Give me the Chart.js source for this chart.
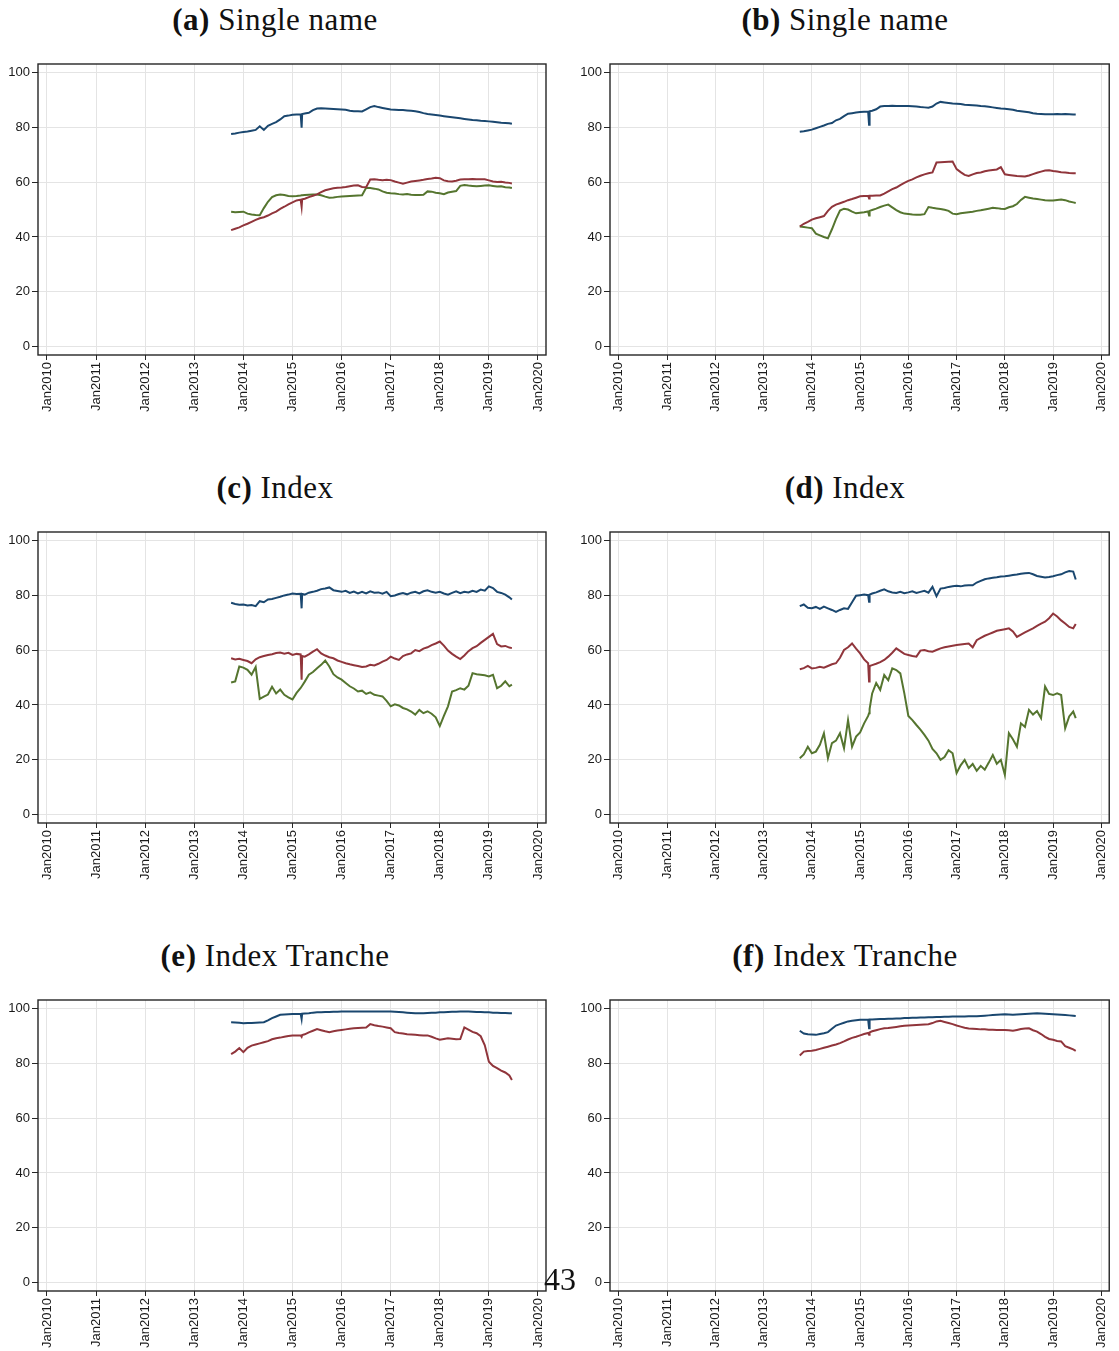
<!DOCTYPE html>
<html>
<head>
<meta charset="utf-8">
<script src="https://cdn.jsdelivr.net/npm/chart.js@4.4.1/dist/chart.umd.min.js"></script>
<style>
  html, body { margin: 0; padding: 0; background: #fff; overflow: hidden; }
  body { width: 1119px; height: 1351px; position: relative; }
  canvas { position: absolute; }
  .title {
    position: absolute; text-align: center; white-space: nowrap;
    font-family: 'Liberation Serif', 'Times New Roman', serif;
    font-size: 31px; line-height: 31px; letter-spacing: 0.5px; color: #111;
  }
  .pagenum {
    position: absolute; left: 544px; top: 1263px;
    font-family: 'Liberation Serif', 'Times New Roman', serif;
    font-size: 32px; line-height: 32px; color: #111;
  }
</style>
</head>
<body>
<div class="pagenum">43</div>
<script>
// ── Data ───────────────────────────────────────────────────────────────────

// sample dates (monthly, plus the Mar 2015 roll and the last observation)
const dates = [
  '2013-10-01', '2013-11-01', '2013-12-01',
  '2014-01-01', '2014-02-01', '2014-03-01', '2014-04-01', '2014-05-01', '2014-06-01',
  '2014-07-01', '2014-08-01', '2014-09-01', '2014-10-01', '2014-11-01', '2014-12-01',
  '2015-01-01', '2015-02-01', '2015-03-01', '2015-03-08', '2015-03-12', '2015-04-01',
  '2015-05-01', '2015-06-01', '2015-07-01', '2015-08-01', '2015-09-01', '2015-10-01',
  '2015-11-01', '2015-12-01',
  '2016-01-01', '2016-02-01', '2016-03-01', '2016-04-01', '2016-05-01', '2016-06-01',
  '2016-07-01', '2016-08-01', '2016-09-01', '2016-10-01', '2016-11-01', '2016-12-01',
  '2017-01-01', '2017-02-01', '2017-03-01', '2017-04-01', '2017-05-01', '2017-06-01',
  '2017-07-01', '2017-08-01', '2017-09-01', '2017-10-01', '2017-11-01', '2017-12-01',
  '2018-01-01', '2018-02-01', '2018-03-01', '2018-04-01', '2018-05-01', '2018-06-01',
  '2018-07-01', '2018-08-01', '2018-09-01', '2018-10-01', '2018-11-01', '2018-12-01',
  '2019-01-01', '2019-02-01', '2019-03-01', '2019-04-01', '2019-05-01', '2019-06-01',
  '2019-06-20',
];

const yearTicks  = [2010, 2011, 2012, 2013, 2014, 2015, 2016, 2017, 2018, 2019, 2020];
const valueTicks = [0, 20, 40, 60, 80, 100];

// (a) Single name
const aBlue = [
  77.5, 77.7, 78.0,
  78.2, 78.4, 78.7, 79.0, 80.3, 79.0, 80.5, 81.2, 81.8, 82.8, 84.0, 84.2,
  84.5, 84.6, 84.7, 79.8, 84.8, 85.0, 85.2, 86.2, 86.8, 86.9, 86.8, 86.7, 86.6, 86.5,
  86.4, 86.3, 86.0, 85.8, 85.8, 85.7, 86.5, 87.3, 87.7, 87.3, 87.0, 86.7,
  86.4, 86.3, 86.2, 86.2, 86.1, 86.0, 85.8, 85.5, 85.1, 84.8, 84.6, 84.4,
  84.2, 84.0, 83.8, 83.6, 83.4, 83.2, 83.0, 82.8, 82.6, 82.5, 82.3, 82.2,
  82.1, 82.0, 81.8, 81.6, 81.5, 81.4, 81.2,
];
const aRed = [
  42.5, 43.0, 43.5,
  44.2, 44.8, 45.5, 46.2, 46.8, 47.2, 47.8, 48.6, 49.2, 50.2, 51.0, 51.9,
  52.6, 53.3, 53.6, 51.0, 53.7, 53.9, 54.5, 55.0, 55.5, 56.3, 57.0, 57.4, 57.7, 57.9,
  58.0, 58.2, 58.5, 58.7, 58.8, 58.2, 58.1, 60.9, 61.0, 60.8, 60.7, 60.8,
  60.7, 60.2, 59.8, 59.4, 59.8, 60.2, 60.4, 60.6, 60.8, 61.1, 61.3, 61.6,
  61.4, 60.6, 60.3, 60.2, 60.5, 60.9, 61.0, 61.0, 61.1, 61.0, 61.0, 61.0,
  60.6, 60.2, 60.0, 60.1, 59.8, 59.7, 59.5,
];
const aGreen = [
  49.2, 49.0, 49.1,
  49.2, 48.5, 48.2, 48.0, 47.9, 50.5, 52.8, 54.5, 55.2, 55.5, 55.3, 54.9,
  54.8, 54.9, 55.1, 55.2, 55.2, 55.3, 55.4, 55.5, 55.5, 55.2, 54.7, 54.3, 54.4, 54.6,
  54.7, 54.8, 54.9, 55.0, 55.1, 55.2, 57.9, 57.8, 57.6, 57.3, 56.6, 56.1,
  55.9, 55.8, 55.6, 55.5, 55.6, 55.4, 55.3, 55.3, 55.4, 56.6, 56.5, 56.1,
  55.9, 55.6, 56.2, 56.5, 56.7, 58.6, 58.9, 58.7, 58.6, 58.5, 58.6, 58.7,
  58.8, 58.6, 58.4, 58.5, 58.1, 58.0, 57.8,
];

// (b) Single name
const bBlue = [
  78.3, 78.5, 78.8,
  79.1, 79.6, 80.1, 80.6, 81.2, 81.5, 82.5, 83.0, 84.0, 84.9, 85.1, 85.3,
  85.5, 85.6, 85.7, 80.9, 85.8, 86.0, 86.5, 87.5, 87.7, 87.7, 87.8, 87.7, 87.7, 87.7,
  87.7, 87.6, 87.5, 87.3, 87.2, 87.1, 87.5, 88.6, 89.2, 89.0, 88.8, 88.6,
  88.5, 88.4, 88.2, 88.1, 88.0, 87.9, 87.7, 87.6, 87.4, 87.2, 87.0, 86.8,
  86.7, 86.5, 86.3, 86.0, 85.8, 85.6, 85.4, 85.1, 84.9, 84.8, 84.7, 84.7,
  84.7, 84.8, 84.7, 84.8, 84.7, 84.6, 84.6,
];
const bRed = [
  43.8, 44.8, 45.5,
  46.3, 46.8, 47.2, 47.6, 49.5, 51.0, 51.8, 52.3, 52.8, 53.4, 53.8, 54.3,
  54.8, 54.9, 55.0, 54.0, 55.0, 55.0, 55.1, 55.1, 55.8, 56.6, 57.4, 58.0, 58.9, 59.7,
  60.4, 61.0, 61.7, 62.3, 62.8, 63.2, 63.5, 67.1, 67.2, 67.3, 67.4, 67.5,
  64.7, 63.6, 62.6, 62.2, 62.8, 63.3, 63.5, 63.9, 64.2, 64.4, 64.6, 65.4,
  62.8, 62.6, 62.4, 62.2, 62.1, 62.0, 62.4, 62.9, 63.4, 63.8, 64.2, 64.3,
  64.0, 63.8, 63.6, 63.5, 63.3, 63.2, 63.2,
];
const bGreen = [
  43.8, 43.6, 43.4,
  43.2, 41.2, 40.6, 40.0, 39.5, 42.8, 46.5, 49.6, 50.3, 50.0, 49.2, 48.6,
  48.8, 49.0, 49.3, 47.8, 49.5, 49.8, 50.3, 50.9, 51.4, 51.8, 50.8, 49.8, 49.0, 48.5,
  48.4, 48.2, 48.1, 48.1, 48.3, 50.9, 50.6, 50.4, 50.2, 49.9, 49.5, 48.5,
  48.3, 48.6, 48.8, 49.0, 49.2, 49.5, 49.7, 50.0, 50.3, 50.6, 50.5, 50.3,
  50.2, 50.8, 51.2, 52.0, 53.5, 54.6, 54.3, 54.0, 53.8, 53.6, 53.4, 53.3,
  53.3, 53.5, 53.6, 53.4, 52.9, 52.6, 52.4,
];

// (c) Index
const cBlue = [
  77.2, 76.8, 76.5,
  76.6, 76.2, 76.4, 76.0, 77.8, 77.4, 78.4, 78.6, 79.0, 79.4, 79.9, 80.2,
  80.6, 80.4, 80.5, 75.2, 80.4, 80.2, 80.9, 81.2, 81.6, 82.2, 82.4, 82.8, 81.8, 81.5,
  81.2, 81.6, 80.8, 81.3, 80.6, 81.2, 80.6, 81.4, 80.9, 81.0, 80.5, 81.2,
  79.6, 79.9, 80.4, 80.8, 80.3, 80.9, 81.2, 80.6, 81.4, 81.8, 81.2, 80.9,
  81.2, 80.6, 80.2, 80.8, 81.4, 80.7, 81.2, 81.0, 81.6, 81.2, 82.0, 81.6,
  83.2, 82.6, 81.2, 80.8, 80.2, 79.2, 78.4,
];
const cRed = [
  57.0, 56.6, 56.8,
  56.4, 56.0, 55.2, 56.6, 57.4, 57.8, 58.2, 58.5, 58.9, 59.1, 58.7, 59.0,
  58.2, 58.6, 58.4, 49.2, 57.8, 57.6, 58.4, 59.4, 60.3, 58.8, 58.0, 57.4, 57.0, 56.2,
  55.7, 55.2, 54.8, 54.5, 54.2, 53.8, 54.0, 54.6, 54.4, 55.0, 55.8, 56.4,
  57.6, 56.9, 56.4, 57.8, 58.4, 58.8, 60.0, 59.6, 60.5, 61.0, 61.8, 62.4,
  63.1, 61.6, 59.8, 58.6, 57.6, 56.7, 58.0, 59.6, 60.7, 61.4, 62.6, 63.7,
  64.8, 65.9, 62.2, 61.3, 61.5, 60.9, 60.7,
];
const cGreen = [
  48.2, 48.6, 54.0,
  53.6, 52.8, 51.0, 53.8, 42.2, 43.0, 43.8, 46.6, 44.2, 45.6, 43.7, 42.8,
  42.0, 44.4, 46.2, 46.7, 47.0, 48.5, 51.0, 52.0, 53.4, 54.6, 56.2, 54.0, 51.2, 50.0,
  49.2, 48.0, 46.8, 46.0, 44.9, 45.2, 44.0, 44.6, 43.7, 43.4, 43.1, 41.5,
  39.5, 40.2, 39.8, 38.9, 38.4, 37.6, 36.5, 38.2, 37.0, 37.7, 36.8, 35.5,
  32.3, 36.0, 39.5, 44.9, 45.4, 46.1, 45.6, 47.0, 51.6, 51.2, 51.0, 50.8,
  50.4, 51.0, 46.1, 47.0, 48.6, 46.8, 47.4,
];

// (d) Index
const dBlue = [
  76.0, 76.6, 75.4,
  75.2, 75.7, 75.0, 75.8, 75.2, 74.6, 73.9, 74.6, 75.2, 75.0, 77.4, 79.8,
  80.0, 80.2, 80.0, 77.6, 80.2, 80.6, 81.0, 81.6, 82.1, 81.4, 81.0, 80.8, 81.2, 80.7,
  81.0, 81.4, 80.8, 81.2, 81.6, 80.9, 83.0, 79.6, 82.4, 82.6, 83.0, 83.2,
  83.4, 83.2, 83.5, 83.6, 83.6, 84.6, 85.2, 85.8, 86.1, 86.3, 86.5, 86.8,
  86.9, 87.1, 87.3, 87.5, 87.8, 88.0, 88.1, 87.6, 87.0, 86.7, 86.4, 86.6,
  86.9, 87.3, 87.6, 88.3, 88.8, 88.6, 85.7,
];
const dRed = [
  53.0, 53.4, 54.2,
  53.3, 53.5, 53.9, 53.6, 54.2, 54.8, 55.2, 57.2, 60.0, 61.0, 62.4, 60.5,
  58.8, 56.6, 55.2, 48.5, 54.2, 54.5, 55.0, 55.6, 56.4, 57.6, 59.0, 60.6, 59.6, 58.6,
  58.2, 57.8, 57.6, 59.8, 60.0, 59.6, 59.4, 60.0, 60.6, 61.0, 61.3, 61.6,
  61.8, 62.0, 62.2, 62.4, 61.0, 63.6, 64.4, 65.2, 65.8, 66.4, 67.0, 67.3,
  67.6, 67.9, 66.8, 64.8, 65.6, 66.4, 67.2, 67.9, 68.8, 69.6, 70.3, 71.6,
  73.3, 72.2, 70.8, 69.7, 68.4, 67.9, 69.5,
];
const dGreen = [
  20.6, 22.0, 24.8,
  22.4, 23.0, 25.5, 29.7, 20.6, 26.1, 27.0, 29.7, 24.2, 34.5, 24.8, 28.5,
  30.0, 33.3, 36.0, 37.0, 38.5, 44.2, 48.0, 45.5, 50.9, 49.0, 53.3, 52.7, 51.5, 44.2,
  36.0, 34.5, 32.7, 31.0, 29.1, 27.0, 24.0, 22.4, 20.0, 21.0, 23.5, 22.4,
  15.2, 18.0, 20.0, 17.0, 18.5, 16.0, 17.8, 16.4, 19.0, 21.8, 18.6, 20.0,
  14.5, 29.7, 27.5, 24.8, 33.3, 32.0, 38.2, 36.5, 37.8, 35.2, 46.7, 44.0,
  43.6, 44.2, 43.6, 31.5, 35.8, 37.6, 35.2,
];

// (e) Index Tranche
const eBlue = [
  94.9, 94.8, 94.7,
  94.5, 94.6, 94.6, 94.7, 94.8, 94.9, 95.6, 96.4, 97.0, 97.6, 97.7, 97.8,
  97.9, 97.9, 98.0, 96.1, 98.0, 98.1, 98.2, 98.4, 98.5, 98.5, 98.6, 98.6, 98.7, 98.7,
  98.8, 98.8, 98.8, 98.8, 98.8, 98.8, 98.8, 98.8, 98.8, 98.8, 98.8, 98.8,
  98.8, 98.7, 98.6, 98.5, 98.4, 98.3, 98.2, 98.2, 98.2, 98.3, 98.4, 98.4,
  98.5, 98.5, 98.6, 98.7, 98.7, 98.8, 98.8, 98.8, 98.7, 98.6, 98.6, 98.5,
  98.5, 98.4, 98.4, 98.3, 98.3, 98.2, 98.2,
];
const eRed = [
  83.3, 84.2, 85.5,
  84.0, 85.6, 86.4, 86.8, 87.2, 87.6, 88.0, 88.7, 89.1, 89.3, 89.6, 89.9,
  90.1, 90.1, 90.1, 89.6, 90.2, 90.5, 91.2, 91.8, 92.4, 92.0, 91.6, 91.3, 91.6, 91.9,
  92.1, 92.3, 92.5, 92.7, 92.8, 92.9, 93.0, 94.2, 93.8, 93.5, 93.3, 93.0,
  92.7, 91.3, 91.0, 90.8, 90.5, 90.4, 90.3, 90.2, 90.1, 90.1, 89.6, 89.0,
  88.5, 88.8, 89.1, 88.9, 88.7, 88.8, 93.0, 92.2, 91.4, 90.9, 89.8, 86.5,
  80.5, 79.0, 78.2, 77.3, 76.6, 75.5, 73.9,
];

// (f) Index Tranche
const fBlue = [
  91.8, 90.8, 90.5,
  90.4, 90.3, 90.6, 90.9, 91.3, 92.5, 93.7, 94.2, 94.7, 95.2, 95.4, 95.6,
  95.8, 95.8, 95.9, 92.7, 95.9, 95.9, 96.0, 96.1, 96.1, 96.2, 96.2, 96.3, 96.3, 96.4,
  96.4, 96.5, 96.5, 96.6, 96.6, 96.7, 96.7, 96.8, 96.8, 96.9, 96.9, 97.0,
  97.0, 97.0, 97.0, 97.1, 97.1, 97.1, 97.2, 97.3, 97.4, 97.5, 97.6, 97.7,
  97.8, 97.7, 97.6, 97.7, 97.8, 97.9, 98.0, 98.1, 98.2, 98.1, 98.0, 97.9,
  97.8, 97.7, 97.6, 97.5, 97.4, 97.3, 97.2,
];
const fRed = [
  82.8, 84.2, 84.4,
  84.5, 84.8, 85.2, 85.6, 86.0, 86.4, 86.8, 87.3, 87.9, 88.6, 89.2, 89.6,
  90.1, 90.6, 91.0, 90.3, 91.2, 91.6, 92.0, 92.4, 92.7, 92.8, 93.0, 93.2, 93.4, 93.6,
  93.7, 93.8, 93.9, 94.0, 94.1, 94.2, 94.6, 95.2, 95.4, 95.0, 94.6, 94.2,
  93.7, 93.3, 92.9, 92.6, 92.5, 92.4, 92.3, 92.3, 92.2, 92.2, 92.1, 92.1,
  92.1, 92.0, 91.8, 92.1, 92.4, 92.6, 92.7, 92.0, 91.5, 90.6, 89.6, 88.8,
  88.5, 88.1, 87.9, 86.2, 85.6, 85.0, 84.5,
];

// ── Styling ────────────────────────────────────────────────────────────────

const BLUE  = '#1a476f';
const RED   = '#90353b';
const GREEN = '#55752f';

const TICK_FONT = { family: "'Liberation Sans', Arial, sans-serif", size: 13 };

function toYear(s) {
    const [y, m, d] = s.split('-').map(Number);
    return y + (m - 1) / 12 + (d - 1) / 365;
}
const xs = dates.map(toYear);

// plot frame drawn round the chart area
const framePlugin = {
    id: 'frame',
    afterDatasetsDraw(chart) {
        const { ctx, chartArea: a } = chart;
        ctx.save();
        ctx.strokeStyle = '#262626';
        ctx.lineWidth   = 1.4;
        ctx.strokeRect(a.left, a.top, a.right - a.left, a.bottom - a.top);
        ctx.restore();
    },
};

// ── Panels ─────────────────────────────────────────────────────────────────

const panels = [
    { tag: '(a)', name: 'Single name',   col: 0, row: 0, series: [aBlue, aRed, aGreen] },
    { tag: '(b)', name: 'Single name',   col: 1, row: 0, series: [bBlue, bRed, bGreen] },
    { tag: '(c)', name: 'Index',         col: 0, row: 1, series: [cBlue, cRed, cGreen] },
    { tag: '(d)', name: 'Index',         col: 1, row: 1, series: [dBlue, dRed, dGreen] },
    { tag: '(e)', name: 'Index Tranche', col: 0, row: 2, series: [eBlue, eRed] },
    { tag: '(f)', name: 'Index Tranche', col: 1, row: 2, series: [fBlue, fRed] },
];

const COLORS   = [BLUE, RED, GREEN];
const ROW_TOP  = [64, 532, 1000];   // top edge of each plot frame
const COL_LEFT = [0, 572];          // left edge of each canvas
const COL_W    = [560, 547];
const COL_PAD  = [14, 2];
const TITLE_CX = [275, 845];

function makePanel(p) {
    const title = document.createElement('div');
    title.className = 'title';
    title.innerHTML = `<b>${p.tag}</b> ${p.name}`;
    title.style.left  = (TITLE_CX[p.col] - 250) + 'px';
    title.style.width = '500px';
    title.style.top   = (ROW_TOP[p.row] - 60) + 'px';
    document.body.appendChild(title);

    const canvas = document.createElement('canvas');
    const w = COL_W[p.col], h = 363;
    canvas.width  = w;
    canvas.height = h;
    canvas.style.left   = COL_LEFT[p.col] + 'px';
    canvas.style.top    = (ROW_TOP[p.row] - 10) + 'px';
    canvas.style.width  = w + 'px';
    canvas.style.height = h + 'px';
    document.body.appendChild(canvas);

    new Chart(canvas.getContext('2d'), {
        type: 'line',
        data: {
            datasets: p.series.map((vals, i) => ({
                data: xs.map((x, j) => ({ x, y: vals[j] })),
                borderColor: COLORS[i],
                borderWidth: 2,
                pointRadius: 0,
                tension: 0,
                fill: false,
            })),
        },
        options: {
            responsive: false,
            animation: false,
            devicePixelRatio: 1,
            layout: { padding: { top: 10, right: COL_PAD[p.col], left: 0, bottom: 0 } },
            plugins: { legend: { display: false }, tooltip: { enabled: false } },
            scales: {
                x: {
                    type: 'linear',
                    min: 2009.817,
                    max: 2020.163,
                    afterBuildTicks: s => { s.ticks = yearTicks.map(v => ({ value: v })); },
                    afterFit: s => { s.height = 62; },
                    ticks: {
                        callback: v => 'Jan' + v,
                        autoSkip: false,
                        minRotation: 90,
                        maxRotation: 90,
                        padding: 2,
                        color: '#1a1a1a',
                        font: TICK_FONT,
                    },
                    grid: { color: '#e4e4e4', lineWidth: 1, tickColor: '#262626', tickLength: 5 },
                    border: { display: false },
                },
                y: {
                    min: -3,
                    max: 103,
                    afterBuildTicks: s => { s.ticks = valueTicks.map(v => ({ value: v })); },
                    afterFit: s => { s.width = 38; },
                    ticks: { padding: 2, color: '#1a1a1a', font: TICK_FONT },
                    grid: { color: '#e4e4e4', lineWidth: 1, tickColor: '#262626', tickLength: 6 },
                    border: { display: false },
                },
            },
        },
        plugins: [framePlugin],
    });
}

panels.forEach(makePanel);
// page number sits above the canvases
document.body.appendChild(document.querySelector('.pagenum'));
</script>
</body>
</html>
